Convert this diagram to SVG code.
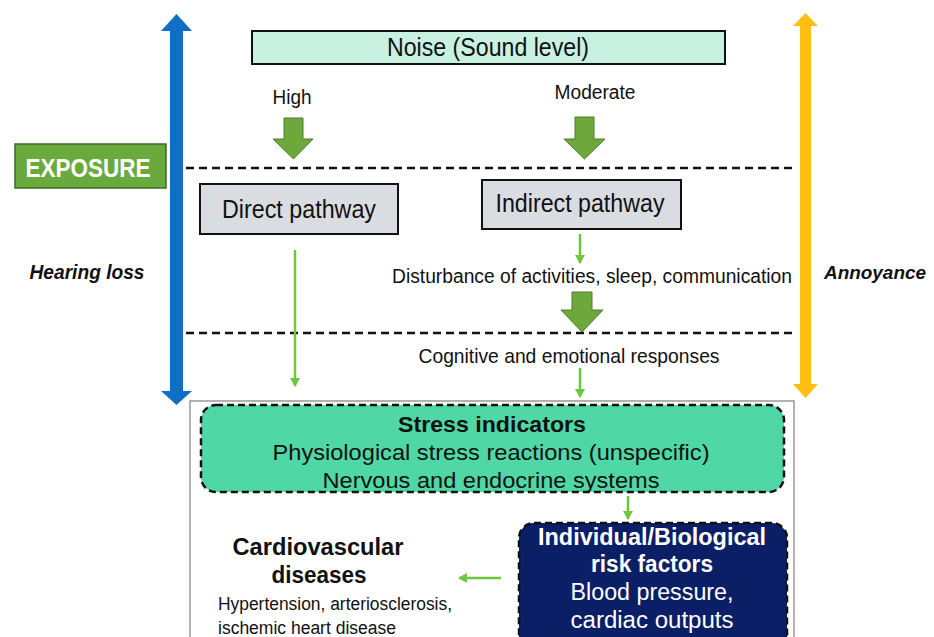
<svg xmlns="http://www.w3.org/2000/svg" width="934" height="637" viewBox="0 0 934 637">
<defs>
<style>
text{font-family:"Liberation Sans",Arial,sans-serif;fill:#111;}
.c{text-anchor:middle;}
.b{font-weight:bold;}
.w{fill:#fff;}
.dash{stroke:#111;stroke-width:2.5;stroke-dasharray:8 5;fill:none;}
.thin{stroke:#6cc83c;stroke-width:2.5;fill:none;marker-end:url(#ah);}
.block{fill:#6ea83c;stroke:#4e7d2a;stroke-width:1;}
.pbox{fill:#d9dde1;stroke:#111;stroke-width:2;}
</style>
<marker id="ah" markerUnits="userSpaceOnUse" markerWidth="10" markerHeight="10" refX="8" refY="5" orient="auto">
<path d="M0,0 L9,5 L0,10 Z" fill="#6cc83c"/>
</marker>
</defs>

<g id="outer-frame">
<rect x="190" y="401" width="604" height="250" fill="none" stroke="#999" stroke-width="1.5"/>
</g>

<g id="hearing-loss-axis">
<rect x="170" y="29" width="13" height="364" fill="#0f6fc6"/>
<polygon points="176.5,14 161,31 192,31" fill="#0f6fc6"/>
<polygon points="176.5,405 161,391 192,391" fill="#0f6fc6"/>
<text x="87" y="279" class="c b" font-style="italic" font-size="19.5" textLength="115" lengthAdjust="spacingAndGlyphs">Hearing loss</text>
</g>

<g id="annoyance-axis">
<rect x="800" y="24" width="11" height="362" fill="#ffbf12"/>
<polygon points="805.5,13 793,26 818,26" fill="#ffbf12"/>
<polygon points="805.5,398 793,384 818,384" fill="#ffbf12"/>
<text x="875" y="279" class="c b" font-style="italic" font-size="19" textLength="102" lengthAdjust="spacingAndGlyphs">Annoyance</text>
</g>

<g id="exposure">
<rect x="15" y="144" width="151" height="44" fill="#6aaa3c" stroke="#3f6a28" stroke-width="1.5"/>
<text x="88" y="176.5" class="c b w" font-size="26" textLength="125" lengthAdjust="spacingAndGlyphs">EXPOSURE</text>
</g>

<g id="noise">
<rect x="252" y="31" width="473" height="33" fill="#c8f1e1" stroke="#111" stroke-width="2"/>
<text x="488" y="56" class="c" font-size="26" textLength="202" lengthAdjust="spacingAndGlyphs">Noise (Sound level)</text>
</g>

<g id="high">
<text x="292" y="104" class="c" font-size="20" textLength="39" lengthAdjust="spacingAndGlyphs">High</text>
<polygon class="block" points="284,118 303,118 303,139 313,139 293.5,159 273,139 284,139"/>
</g>

<g id="moderate">
<text x="595" y="99" class="c" font-size="20" textLength="81" lengthAdjust="spacingAndGlyphs">Moderate</text>
<polygon class="block" points="575,117 594,117 594,139 605,139 584.5,159 564,139 575,139"/>
</g>

<g id="separators">
<line class="dash" x1="186" y1="168" x2="792" y2="168"/>
<line class="dash" x1="186" y1="333" x2="792" y2="333"/>
</g>

<g id="direct-pathway">
<rect class="pbox" x="200" y="184" width="198" height="50"/>
<text x="299" y="218" class="c" font-size="25" textLength="154" lengthAdjust="spacingAndGlyphs">Direct pathway</text>
</g>

<g id="indirect-pathway">
<rect class="pbox" x="482" y="180" width="199" height="49"/>
<text x="580" y="212" class="c" font-size="25" textLength="169" lengthAdjust="spacingAndGlyphs">Indirect pathway</text>
</g>

<g id="disturbance">
<text x="592" y="283" class="c" font-size="20" textLength="400" lengthAdjust="spacingAndGlyphs">Disturbance of activities, sleep, communication</text>
<polygon class="block" points="572,292 592,292 592,310 603,310 582,332 561,310 572,310"/>
</g>

<g id="cognitive">
<text x="569" y="363" class="c" font-size="21" textLength="301" lengthAdjust="spacingAndGlyphs">Cognitive and emotional responses</text>
</g>

<g id="stress-indicators">
<rect x="201" y="405" width="583" height="87" rx="15" ry="15" fill="#4fd8a6" stroke="#111" stroke-width="2.5" stroke-dasharray="7 4"/>
<text x="492" y="432" class="c b" font-size="22" textLength="188" lengthAdjust="spacingAndGlyphs">Stress indicators</text>
<text x="491" y="460" class="c" font-size="22" textLength="437" lengthAdjust="spacingAndGlyphs">Physiological stress reactions (unspecific)</text>
<text x="491" y="488" class="c" font-size="22" textLength="337" lengthAdjust="spacingAndGlyphs">Nervous and endocrine systems</text>
</g>

<g id="risk-factors">
<rect x="519" y="523" width="268" height="130" rx="15" ry="15" fill="#0b1f66" stroke="#111" stroke-width="2.5" stroke-dasharray="7 4"/>
<text x="652" y="545" class="c b w" font-size="23" textLength="228" lengthAdjust="spacingAndGlyphs">Individual/Biological</text>
<text x="652" y="572" class="c b w" font-size="23" textLength="122" lengthAdjust="spacingAndGlyphs">risk factors</text>
<text x="652" y="600" class="c w" font-size="23" textLength="163" lengthAdjust="spacingAndGlyphs">Blood pressure,</text>
<text x="652" y="628" class="c w" font-size="23" textLength="163" lengthAdjust="spacingAndGlyphs">cardiac outputs</text>
</g>

<g id="cardiovascular">
<text x="318" y="555" class="c b" font-size="23" textLength="171" lengthAdjust="spacingAndGlyphs">Cardiovascular</text>
<text x="319" y="583" class="c b" font-size="23" textLength="95" lengthAdjust="spacingAndGlyphs">diseases</text>
<text x="218" y="610" font-size="18" textLength="234" lengthAdjust="spacingAndGlyphs">Hypertension, arteriosclerosis,</text>
<text x="218" y="634" font-size="18" textLength="178" lengthAdjust="spacingAndGlyphs">ischemic heart disease</text>
</g>

<g id="connectors">
<line class="thin" x1="295" y1="250" x2="295" y2="386"/>
<line class="thin" x1="580" y1="234" x2="580" y2="263"/>
<line class="thin" x1="580" y1="368" x2="580" y2="397"/>
<line class="thin" x1="628" y1="496" x2="628" y2="519"/>
<line class="thin" x1="501" y1="578" x2="459" y2="578"/>
</g>
</svg>
